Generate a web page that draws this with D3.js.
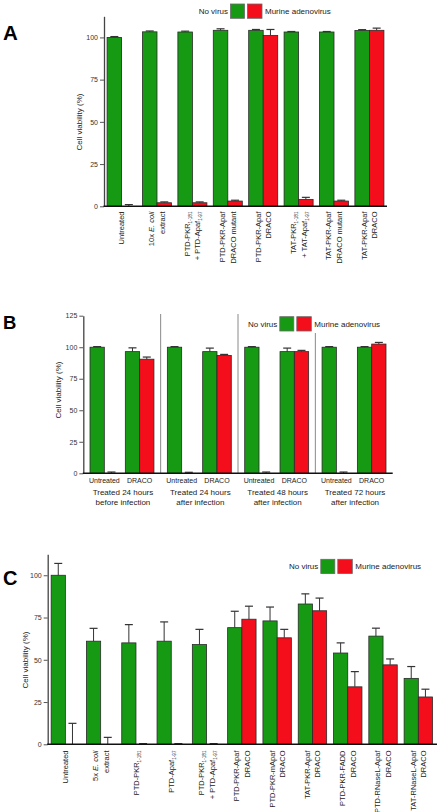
<!DOCTYPE html>
<html><head><meta charset="utf-8">
<script src="https://cdn.jsdelivr.net/npm/d3@7/dist/d3.min.js"></script>
<style>body{margin:0;background:#fff} svg{display:block;font-family:"Liberation Sans",Arial,sans-serif}</style>
</head><body><svg id="c" width="439" height="812"></svg>
<script>
// ---------- DATA ----------
const seriesNames = ["No virus", "Murine adenovirus"];
const yTicksAC = [0, 25, 50, 75, 100];
const yTicksB = [0, 25, 50, 75, 100, 125];

// Panel A
const categoriesA = ["Untreated", "10x *E. coli*|extract", "PTD-PKR_1-181_|+ PTD-Apaf_1-97_", "PTD-PKR-Apaf|DRACO mutant", "PTD-PKR-Apaf|DRACO", "TAT-PKR_1-181_|+ TAT-Apaf_1-97_", "TAT-PKR-Apaf|DRACO mutant", "TAT-PKR-Apaf|DRACO"];
const noVirusA = [100, 103.3, 103.2, 104.2, 104.2, 103.2, 103.2, 104.1];
const noVirusErrA = [0.5, 0.5, 0.5, 0.9, 0.5, 0.3, 0.3, 0.5];
const adenoA = [0, 2.1, 2.1, 3.1, 101.2, 4.1, 3.1, 104.2];
const adenoErrA = [1, 0.5, 0.5, 0.5, 3.5, 1.2, 0.5, 1.3];

// Panel B
const sectionsB = ["Treated 24 hours|before infection", "Treated 24 hours|after infection", "Treated 48 hours|after infection", "Treated 72 hours|after infection"];
const subcategoriesB = ["Untreated", "DRACO"];
const noVirusB = [100, 96.5, 100, 96.5, 100, 96.5, 100, 100];
const noVirusErrB = [0.5, 3, 0.5, 2.8, 0.5, 2.8, 0.5, 0.5];
const adenoB = [0, 90.5, 0, 93.5, 0, 96.5, 0, 102.5];
const adenoErrB = [1, 1.7, 0.8, 0.8, 1, 1, 1, 1.3];

// Panel C
const categoriesC = ["Untreated", "5x *E. coli*|extract", "PTD-PKR_1-181_", "PTD-Apaf_1-97_", "PTD-PKR_1-181_|+ PTD-Apaf_1-97_", "PTD-PKR-Apaf|DRACO", "PTD-PKR-mApaf|DRACO", "TAT-PKR-Apaf|DRACO", "PTD-PKR-FADD|DRACO", "PTD-RNaseL-Apaf|DRACO", "TAT-RNaseL-Apaf|DRACO"];
const noVirusC = [100, 61, 60, 61, 59, 69, 73, 83, 54, 64, 39];
const noVirusErrC = [7, 7.6, 10.8, 11.4, 9, 9.7, 8.2, 6, 6, 4.7, 7];
const adenoC = [0, 0, 0, 0, 0, 74, 63, 79, 34, 47, 28];
const adenoErrC = [12.4, 4.1, 0.4, 0.4, 0.4, 7.7, 5, 7.5, 9, 3.5, 4.6];

// ---------- STYLE ----------
const GREEN = "#169a14", RED = "#f40e1b";
const colors = [GREEN, RED];
const svg = d3.select("#c");

function rich(textSel, str) {
  const parts = str.split(/(_[^_]*_|\*[^*]*\*)/).filter(s => s.length);
  let pending = 0;
  parts.forEach(p => {
    let ts;
    if (p.startsWith("_")) {
      ts = textSel.append("tspan").attr("font-size", "0.62em").attr("dy", 2 + pending).text(p.slice(1, -1));
      pending = -2;
      return;
    } else if (p.startsWith("*")) {
      ts = textSel.append("tspan").attr("font-style", "italic").text(p.slice(1, -1));
    } else {
      ts = textSel.append("tspan").text(p);
    }
    if (pending) { ts.attr("dy", pending); pending = 0; }
  });
}

function yAxis(y, ticks, x) {
  const g = svg.append("g").attr("transform", `translate(${x},0)`)
    .call(d3.axisLeft(y).tickValues(ticks).tickSize(4).tickSizeOuter(0).tickPadding(2));
  g.select(".domain").attr("stroke", "#444").attr("stroke-width", 1.3);
  g.selectAll(".tick line").attr("stroke", "#555");
  g.selectAll(".tick text").attr("font-size", 7).attr("fill", "#333").attr("font-family", "Liberation Sans, Arial, sans-serif");
}

function xAxisLine(x1, x2, y0) {
  svg.append("line").attr("x1", x1).attr("x2", x2).attr("y1", y0).attr("y2", y0)
    .attr("stroke", "#111").attr("stroke-width", 1.5);
}

function bars(xLeft, bw, y, vals, errs, offsetIdx) {
  const g = svg.append("g");
  vals.forEach((v, i) => {
    const x = xLeft(i) + offsetIdx * bw;
    if (v > 0) {
      g.append("rect").attr("x", x).attr("width", bw).attr("y", y(v)).attr("height", y(0) - y(v))
        .attr("fill", colors[offsetIdx]).attr("stroke", "#2a2a2a").attr("stroke-width", 0.8);
    }
  });
  vals.forEach((v, i) => {
    const cx = xLeft(i) + offsetIdx * bw + bw / 2;
    const e = errs[i];
    if (e > 0) {
      g.append("line").attr("x1", cx).attr("x2", cx).attr("y1", y(v)).attr("y2", y(v + e))
        .attr("stroke", "#333").attr("stroke-width", 1);
      g.append("line").attr("x1", cx - 4).attr("x2", cx + 4).attr("y1", y(v + e)).attr("y2", y(v + e))
        .attr("stroke", "#333").attr("stroke-width", 1.2);
    }
  });
}

function legend(textEnd, top) {
  const g = svg.append("g").attr("font-size", 8).attr("fill", "#222");
  g.append("text").attr("x", textEnd).attr("y", top + 10).attr("text-anchor", "end").text(seriesNames[0]);
  g.append("rect").attr("x", textEnd + 2.5).attr("y", top).attr("width", 14).attr("height", 14.3)
    .attr("fill", GREEN).attr("stroke", "#6a6a6a").attr("stroke-width", 0.8);
  g.append("rect").attr("x", textEnd + 19.5).attr("y", top).attr("width", 14.5).attr("height", 14.3)
    .attr("fill", RED).attr("stroke", "#6a6a6a").attr("stroke-width", 0.8);
  g.append("text").attr("x", textEnd + 37).attr("y", top + 10).text(seriesNames[1]);
}

function panelLetter(t, x, y, size) {
  svg.append("text").attr("x", x).attr("y", y).attr("font-size", size).attr("font-weight", "bold")
    .attr("fill", "#000").text(t);
}

function yLabel(x, yc) {
  svg.append("text").attr("transform", `translate(${x},${yc}) rotate(-90)`).attr("text-anchor", "middle")
    .attr("font-size", 8).attr("fill", "#222").text("Cell viability (%)");
}

function rotLabels(cats, centerX, top) {
  cats.forEach((c, i) => {
    const lines = c.split("|");
    const g = svg.append("g").attr("transform", `translate(${centerX(i)},${top}) rotate(-90)`);
    lines.forEach((ln, j) => {
      const t = g.append("text").attr("x", 0).attr("y", (j - (lines.length - 1) / 2) * 10.6 + 2.7)
        .attr("text-anchor", "end").attr("font-size", 7.5).attr("fill", "#222");
      rich(t, ln);
    });
  });
}

// ---------- PANEL A ----------
(function () {
  const x = d3.scaleBand().domain(categoriesA).range([104, 387]).paddingInner(0.18).paddingOuter(0.087);
  const y = d3.scaleLinear().domain([0, 112.5]).range([206.3, 16.3]);
  const bw = x.bandwidth() / 2;
  const xl = i => x(categoriesA[i]);
  bars(xl, bw, y, noVirusA, noVirusErrA, 0);
  bars(xl, bw, y, adenoA, adenoErrA, 1);
  yAxis(y, yTicksAC, 104);
  xAxisLine(103.5, 387, y(0));
  legend(228, 4);
  panelLetter("A", 3, 39.5, 20.5);
  yLabel(82, 122);
  rotLabels(categoriesA, i => xl(i) + bw, 211.5);
})();

// ---------- PANEL B ----------
(function () {
  const xs = d3.scaleBand().domain(sectionsB).range([83.3, 392.7]);
  const xi = d3.scaleBand().domain(subcategoriesB).range([0, xs.bandwidth()]).paddingInner(0.19).paddingOuter(0.19);
  const y = d3.scaleLinear().domain([0, 125]).range([473.3, 315.7]);
  const bw = xi.bandwidth() / 2;
  const xl = i => xs(sectionsB[Math.floor(i / 2)]) + xi(subcategoriesB[i % 2]);
  sectionsB.forEach((s, k) => {
    if (k === 0) return;
    const xx = xs(s);
    svg.append("line").attr("x1", xx).attr("x2", xx).attr("y1", k === 3 ? 333 : 314).attr("y2", y(0))
      .attr("stroke", "#8a8a8a").attr("stroke-width", 1);
  });
  bars(xl, bw, y, noVirusB, noVirusErrB, 0);
  bars(xl, bw, y, adenoB, adenoErrB, 1);
  yAxis(y, yTicksB, 83.3);
  xAxisLine(82.8, 392.7, y(0));
  legend(277.3, 316.7);
  panelLetter("B", 3, 328.5, 18.5);
  yLabel(61, 390);
  const g = svg.append("g").attr("fill", "#222");
  for (let i = 0; i < 8; i++) {
    g.append("text").attr("x", xl(i) + bw).attr("y", 483).attr("text-anchor", "middle")
      .attr("font-size", 7).text(subcategoriesB[i % 2]);
  }
  sectionsB.forEach(s => {
    const cx = xs(s) + xs.bandwidth() / 2 + 1;
    s.split("|").forEach((ln, j) => {
      g.append("text").attr("x", cx).attr("y", 495 + j * 10).attr("text-anchor", "middle")
        .attr("font-size", 8).text(ln);
    });
  });
})();

// ---------- PANEL C ----------
(function () {
  const x = d3.scaleBand().domain(categoriesC).range([47.7, 436]).paddingInner(0.195).paddingOuter(0.098);
  const y = d3.scaleLinear().domain([0, 112.4]).range([744.3, 554.3]);
  const bw = x.bandwidth() / 2;
  const xl = i => x(categoriesC[i]);
  bars(xl, bw, y, noVirusC, noVirusErrC, 0);
  bars(xl, bw, y, adenoC, adenoErrC, 1);
  yAxis(y, yTicksAC, 47.7);
  xAxisLine(47.2, 437, y(0));
  legend(318.3, 559.3);
  panelLetter("C", 3, 584.5, 20);
  yLabel(28, 660);
  rotLabels(categoriesC, i => xl(i) + bw, 750.5);
})();
</script></body></html>
